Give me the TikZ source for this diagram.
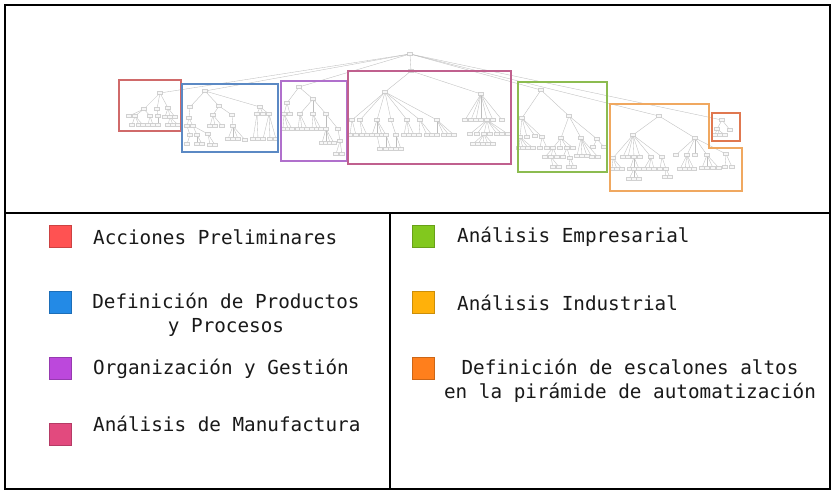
\documentclass[tikz,border=0pt]{standalone}
\usepackage{fontspec}
\newfontfamily\lmono{DejaVu Sans Mono}
\definecolor{cRed}{HTML}{FF5252}
\definecolor{cBlue}{HTML}{238AE6}
\definecolor{cPurple}{HTML}{BC48DC}
\definecolor{cMag}{HTML}{E24A7E}
\definecolor{cGreen}{HTML}{82C81E}
\definecolor{cYel}{HTML}{FFB10A}
\definecolor{cOra}{HTML}{FF7F1C}
\definecolor{gRed}{HTML}{D06A6A}
\definecolor{gBlue}{HTML}{5B89C4}
\definecolor{gPurple}{HTML}{B070CC}
\definecolor{gMag}{HTML}{C0608E}
\definecolor{gGreen}{HTML}{8CBC50}
\definecolor{gOra}{HTML}{F0A860}
\definecolor{gOraRed}{HTML}{E07850}
\newcommand\tbranch[2]{\foreach \cx/\cy in {#2}{\node[tn] (n\cx-\cy) at (\cx,\cy) {}; \draw[te] (#1) -- (n\cx-\cy);}}
\begin{document}
\begin{tikzpicture}[x=1pt,y=-1pt,
 tn/.style={draw=black!18,fill=black!3,line width=0.3pt,minimum width=5pt,minimum height=3.2pt,inner sep=0pt},
 te/.style={draw=black!26,line width=0.35pt},
 grp/.style={line width=1.3pt},
 frm/.style={line width=2pt,draw=black},
 sq/.style={minimum size=22pt,inner sep=0pt,line width=0.6pt},
 lbl/.style={font=\fontsize{19.3}{24}\selectfont\lmono,inner sep=0pt,text=black!90}]
\useasboundingbox (0,0) rectangle (833,492);
\fill[white] (0,0) rectangle (833,492);
% ---------- tree ----------
\node[tn] (root) at (410,54) {};
\tbranch{root}{160/93,205/91,299/87,411/71,541/90,659/116,722/120}
% red
\tbranch{n160-93}{144/109,157/109,168/108}
\tbranch{n144-109}{129/116,135/116,150/116}
\tbranch{n135-116}{132/125,139/125,143/125}
\tbranch{n150-116}{148/125,153/125}
\tbranch{n157-109}{158/116}
\tbranch{n158-116}{158/125}
\tbranch{n168-108}{165/117,170/117,175/117}
\tbranch{n170-117}{168/125,173/125,178/125}
% blue
\tbranch{n205-91}{190/107,219/106,260/107}
\tbranch{n190-107}{189/118}
\tbranch{n189-118}{187/126,193/126}
\tbranch{n187-126}{190/135}
\tbranch{n193-126}{197/135,208/134}
\tbranch{n190-135}{187/144}
\tbranch{n197-135}{197/144,202/144}
\tbranch{n208-134}{210/145,215/145}
\tbranch{n219-106}{213/115,232/115}
\tbranch{n213-115}{210/126,215/126,222/126}
\tbranch{n232-115}{233/126}
\tbranch{n233-126}{228/139,233/139,238/139,245/140}
\tbranch{n260-107}{257/114,263/114,269/114}
\tbranch{n257-114}{253/139,258/139}
\tbranch{n269-114}{263/139,270/139,276/139}
% purple
\tbranch{n299-87}{287/103,313/99}
\tbranch{n287-103}{284/114,290/114}
\tbranch{n284-114}{283/129,288/129,292/129}
\tbranch{n313-99}{300/114,313/114,326/114}
\tbranch{n300-114}{298/129,302/129,307/129}
\tbranch{n313-114}{312/129,317/129,321/129}
\tbranch{n326-114}{326/129,338/129}
\tbranch{n326-129}{322/143,326/143,330/143,334/143}
\tbranch{n338-129}{340/141}
\tbranch{n340-141}{336/154,342/154}
% magenta
\tbranch{n411-71}{385/92,481/94}
\tbranch{n385-92}{352/120,360/120,377/120,391/120,407/120,420/120,437/120}
\tbranch{n352-120}{350/135,356/135}
\tbranch{n360-120}{362/135,367/135}
\tbranch{n377-120}{372/135,377/135,382/135,386/135}
\tbranch{n391-120}{396/135}
\tbranch{n407-120}{404/135,409/135,414/135}
\tbranch{n420-120}{419/135,427/135,432/135}
\tbranch{n437-120}{437/135,444/135,449/135,454/135}
\tbranch{n377-135}{380/149}
\tbranch{n386-135}{386/149,391/149}
\tbranch{n396-135}{396/149,401/149}
\tbranch{n481-94}{465/120,471/120,476/120,481/120,487/120,493/120,502/120}
\tbranch{n487-120}{470/134,477/134,484/134,490/134,497/134,502/134,508/134}
\tbranch{n484-134}{473/144,478/144,483/144,488/144,493/144}
% green
\tbranch{n541-90}{522/118,569/116}
\tbranch{n522-118}{520/137,527/137,535/136,542/137}
\tbranch{n520-137}{519/148,523/148,528/148,533/148}
\tbranch{n542-137}{540/148,547/148}
\tbranch{n569-116}{561/138,581/138,597/139}
\tbranch{n561-138}{553/148,560/148,567/148,573/148}
\tbranch{n553-148}{545/157,551/157,557/157}
\tbranch{n567-148}{563/157,570/158}
\tbranch{n551-157}{553/167,559/167}
\tbranch{n570-158}{569/167,574/167}
\tbranch{n581-138}{577/156,582/156,587/156,592/157,598/157}
\tbranch{n597-139}{593/147,604/147}
% orange
\tbranch{n659-116}{633/135,695/138}
\tbranch{n633-135}{613/158,623/157,628/157,634/157,640/157,651/157,662/157}
\tbranch{n613-158}{612/169,617/169,622/169}
\tbranch{n634-157}{630/169,634/169,639/169}
\tbranch{n651-157}{644/169,649/169,654/169}
\tbranch{n662-157}{660/169,666/169}
\tbranch{n634-169}{629/179,634/179,639/179}
\tbranch{n666-169}{665/177,670/177}
\tbranch{n695-138}{676/155,687/155,695/155,707/155,726/154}
\tbranch{n687-155}{680/169,685/169,690/169,694/169}
\tbranch{n707-155}{702/168,707/168,713/168,719/168}
\tbranch{n726-154}{725/167,732/167}
% orange-red
\tbranch{n722-120}{717/129,730/130}
\tbranch{n717-129}{715/135,720/135,725/135}
% ---------- group boxes ----------
\draw[grp,gRed] (119,80) rectangle (181,131);
\draw[grp,gBlue] (182,84) rectangle (278,152);
\draw[grp,gPurple] (281,81) rectangle (347,161);
\draw[grp,gMag] (348,71) rectangle (511,164);
\draw[grp,gGreen] (518,82) rectangle (607,172);
\draw[grp,gOra] (610,104) -- (709,104) -- (709,148) -- (742,148) -- (742,191) -- (610,191) -- cycle;
\draw[grp,gOraRed] (712,113) rectangle (740,141);
% ---------- frames ----------
\draw[frm] (5,5) rectangle (830,213);
\draw[frm] (5,213) rectangle (390,489);
\draw[frm] (390,213) rectangle (830,489);
% ---------- legend ----------
\node[sq,fill=cRed,draw=cRed!80!black] (s1) at (60,236) {};
\node[lbl,anchor=west] (t1) at (93,237) {Acciones Preliminares};
\node[sq,fill=cBlue,draw=cBlue!80!black] (s2) at (60,302) {};
\node[lbl,align=center] (t2) at (226,315) {Definición de Productos\\y Procesos};
\node[sq,fill=cPurple,draw=cPurple!80!black] (s3) at (60,368) {};
\node[lbl,anchor=west] (t3) at (93,369) {Organización y Gestión};
\node[sq,fill=cMag,draw=cMag!80!black] (s4) at (60,434) {};
\node[lbl,anchor=west] (t4) at (93,424) {Análisis de Manufactura};
\node[sq,fill=cGreen,draw=cGreen!80!black] (s5) at (423,236) {};
\node[lbl,anchor=west] (t5) at (457,237) {Análisis Empresarial};
\node[sq,fill=cYel,draw=cYel!80!black] (s6) at (423,302) {};
\node[lbl,anchor=west] (t6) at (457,303) {Análisis Industrial};
\node[sq,fill=cOra,draw=cOra!80!black] (s7) at (423,368) {};
\node[lbl,align=center] (t7) at (630,381) {Definición de escalones altos\\en la pirámide de automatización};
\end{tikzpicture}
\end{document}
